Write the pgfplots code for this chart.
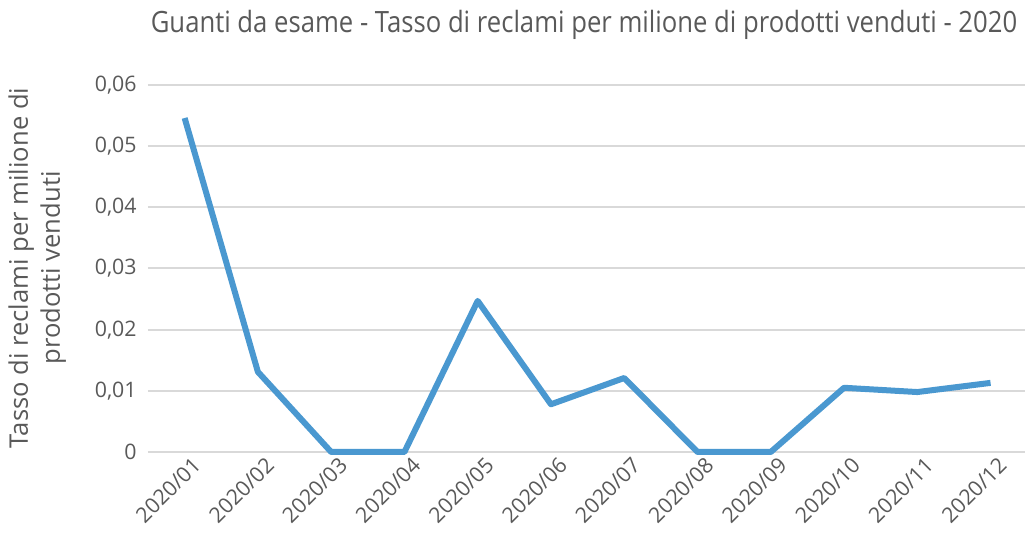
\documentclass[border=0pt]{standalone}
\usepackage{pgfplots}
\pgfplotsset{compat=1.18}
\usepackage{fontspec}
\setmainfont{Open Sans}
\usepackage{graphicx}
\definecolor{txtc}{RGB}{89,89,89}
\definecolor{gridc}{RGB}{217,217,217}
\definecolor{linec}{RGB}{74,152,208}
\begin{document}
\begin{tikzpicture}
\useasboundingbox (-111pt,-66.75pt) rectangle (657.75pt,339pt);
\begin{axis}[
  scale only axis,
  width=657.75pt, height=275.25pt,
  xmin=-0.5, xmax=11.47,
  ymin=0, ymax=0.06,
  scaled y ticks=false,
  axis line style={draw=none},
  tick style={draw=none},
  ytick={0,0.01,0.02,0.03,0.04,0.05,0.06},
  yticklabels={0,{0,01},{0,02},{0,03},{0,04},{0,05},{0,06}},
  xtick={0,...,11},
  xticklabels={2020/01,2020/02,2020/03,2020/04,2020/05,2020/06,2020/07,2020/08,2020/09,2020/10,2020/11,2020/12},
  xmajorgrids=false,
  ymajorgrids=true,
  major grid style={draw=gridc, line width=1.5pt},
  ticklabel style={font=\fontsize{16}{18}\selectfont, text=txtc},
  xticklabel style={rotate=45, anchor=north east, xshift=5pt, yshift=-2pt},
  yticklabel style={xshift=-5pt},
  clip=false,
]
\addplot[linec, line width=4.5pt, line join=round] coordinates {
(0,0.0546) (1,0.0131) (2,0) (3,0) (4,0.0247) (5,0.0078)
(6,0.0121) (7,0) (8,0) (9,0.0105) (10,0.0098) (11,0.0113)
};
\end{axis}
\node[text=txtc, font=\fontsize{22}{24}\selectfont] at (327pt,320.25pt) {\scalebox{0.875}[1]{Guanti da esame - Tasso di reclami per milione di prodotti venduti - 2020}};
\node[text=txtc, font=\fontsize{19.2}{24}\selectfont, rotate=90, align=center] at (-83pt,138pt) {Tasso di reclami per milione di\\prodotti venduti};
\end{tikzpicture}
\end{document}
